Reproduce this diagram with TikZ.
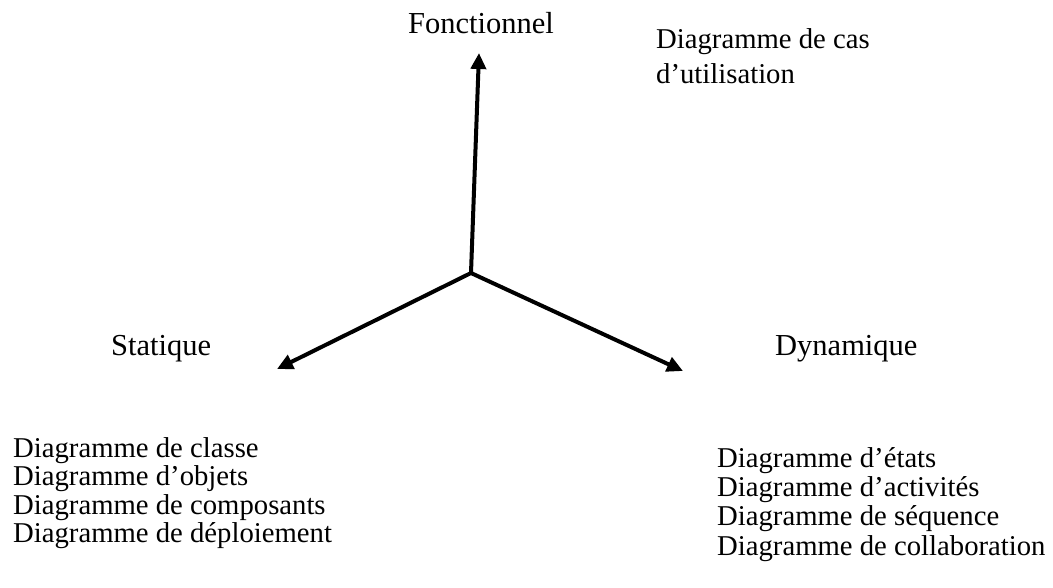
\documentclass[tikz,border=0pt]{standalone}
\usepackage{fontspec}
\setmainfont{Liberation Serif}
\usetikzlibrary{arrows.meta}
\tikzset{
  axis/.style={line width=4pt, -{Triangle[length=16pt,width=15pt]}},
  lbl/.style={anchor=base west, inner sep=0pt, font=\fontsize{28.7pt}{29pt}\selectfont},
  head/.style={lbl, font=\fontsize{30.5pt}{31pt}\selectfont},
}
\begin{document}
\begin{tikzpicture}[x=1pt,y=-1pt]
\useasboundingbox (0,0) rectangle (1053,587);
\coordinate (o) at (471,273);
\coordinate (tf) at (479,53);
\coordinate (ts) at (277,369);
\coordinate (td) at (683,371);
\draw[axis] (o) -- (tf);
\draw[axis] (o) -- (ts);
\draw[axis] (o) -- (td);
\node[head] (fonc) at (408,33) {Fonctionnel};
\node[head] (stat) at (111,355) {Statique};
\node[head] (dyn) at (775,355) {Dynamique};
\node[lbl] (cas1) at (656,48) {Diagramme de cas};
\node[lbl] (cas2) at (656,83) {d’utilisation};
\node[lbl] (s1) at (13,457) {Diagramme de classe};
\node[lbl] (s2) at (13,485.5) {Diagramme d’objets};
\node[lbl] (s3) at (13,514) {Diagramme de composants};
\node[lbl] (s4) at (13,542.5) {Diagramme de déploiement};
\node[lbl] (d1) at (717,467) {Diagramme d’états};
\node[lbl] (d2) at (717,496) {Diagramme d’activités};
\node[lbl] (d3) at (717,525) {Diagramme de séquence};
\node[lbl] (d4) at (717,555) {Diagramme de collaboration};
\end{tikzpicture}
\end{document}
